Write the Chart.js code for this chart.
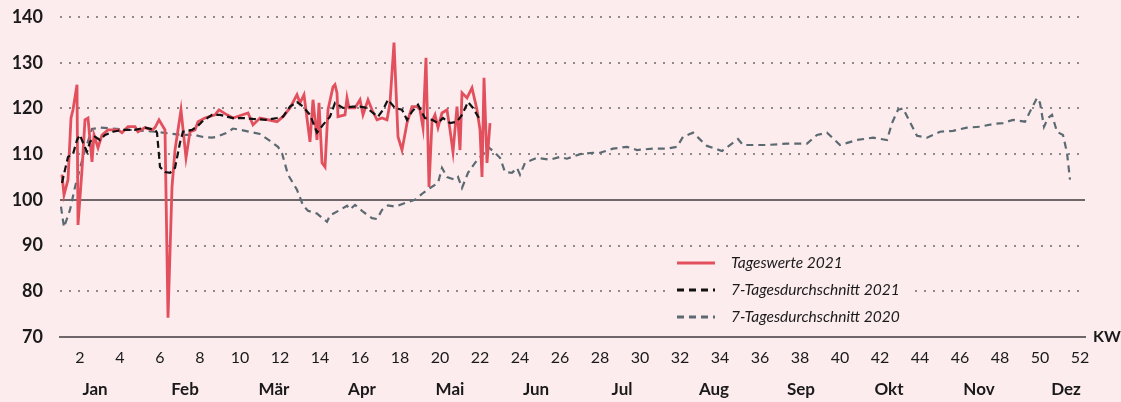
<!DOCTYPE html>
<html>
<head>
<meta charset="utf-8">
<script src="https://cdn.jsdelivr.net/npm/chart.js@4.4.0/dist/chart.umd.min.js"></script>
<style>
html, body { margin: 0; padding: 0; background: #fcecee; }
#wrap { position: relative; width: 1121px; height: 402px; }
</style>
</head>
<body>
<div id="wrap"><canvas id="chart" width="1121" height="402"></canvas></div>
<script>
// Kalenderwoche (KW, fractional) and index values

// Tageswerte 2021
const tagX = [1.1,1.2,1.4,1.55,1.65,1.85,1.9,2.1,2.25,2.4,2.6,2.7,2.9,3.1,3.4,3.9,4.1,4.4,4.75,4.9,5.25,5.6,5.75,5.95,6.25,6.4,6.6,6.75,7.05,7.3,7.5,7.75,7.9,8.25,8.75,8.95,9.35,9.65,10.4,10.65,11.0,11.85,12.15,12.5,12.85,13.0,13.2,13.5,13.65,13.85,13.95,14.1,14.25,14.4,14.65,14.75,14.85,14.9,15.25,15.35,15.45,15.75,16.0,16.15,16.4,16.6,16.85,17.1,17.35,17.5,17.7,17.9,18.1,18.35,18.6,18.85,19.0,19.15,19.3,19.45,19.6,19.75,19.9,20.1,20.35,20.5,20.65,20.85,21.0,21.1,21.35,21.6,21.85,22.0,22.1,22.2,22.35,22.5];
const tagY = [105.5,101.1,104.4,117.9,119.7,125.2,94.5,106.6,117.5,117.9,108.3,114.2,111.4,114.2,115.3,115.3,114.7,116,116,114.9,115.8,115.3,115.8,117.5,115.3,74.2,102.8,110.9,119.7,109.2,114.9,115.3,117.1,117.9,118.6,119.7,118.6,117.9,119,116.4,117.9,117.1,118.2,120.1,123,121.2,123,112.7,121.9,113.1,121.2,108.1,107.2,119.7,124.7,125.2,123.4,118.2,118.6,122.3,120.1,120.1,121.9,118.6,121.9,119.7,117.5,117.9,117.5,121.2,134.4,113.8,110.9,116.8,120.4,120.4,119.7,115.8,131.1,102.8,117.1,118.6,115.8,119,119.7,115.3,110.5,120.4,110.9,123.4,122.3,124.5,119.7,115.3,105,126.7,108.1,116.8];

// 7-Tagesdurchschnitt 2021
const avg21X = [1.1,1.25,1.4,1.65,1.85,2.0,2.15,2.35,2.5,2.75,3.0,3.25,3.65,4.1,4.75,5.25,5.75,5.85,6.0,6.25,6.5,6.75,7.0,7.15,7.6,7.85,8.1,8.6,9.0,9.65,10.15,10.65,11.35,11.85,12.15,12.5,12.85,13.15,13.5,13.85,14.15,14.5,14.75,15.15,15.65,16.0,16.35,16.65,16.9,17.15,17.4,17.75,18.1,18.35,18.6,18.9,19.25,19.6,19.9,20.15,20.5,20.85,21.1,21.4,21.65,22.0];
const avg21Y = [103.7,106.6,109.4,110,113.1,114.2,112.5,110.5,112.7,113.8,113.1,114.2,114.9,115.3,115.3,115.8,115.3,114.7,107.2,106.1,105.9,107,112.5,114.9,115.3,116,117.1,118.6,118.6,117.9,117.9,117.7,117.5,117.9,118.2,120.4,121.4,120.4,118.6,114.7,116.4,118.2,121.2,120.1,120.4,120.4,120.1,119,118.2,119.7,121.9,120.1,119.7,117.5,119.3,120.8,117.9,117.5,116.8,117.9,116.8,117.1,118.6,121.4,120.1,117.5];

// 7-Tagesdurchschnitt 2020
const avg20X = [1.05,1.2,1.5,1.75,2.15,2.6,3.0,5.75,7.1,7.75,8.1,8.6,8.85,9.35,9.65,10.15,11.0,11.5,11.9,12.1,12.4,12.85,13.15,13.4,13.85,14.35,14.5,15.0,15.35,15.5,15.75,16.15,16.6,16.85,17.1,17.4,17.75,18.25,18.75,19.15,19.5,19.9,20.1,20.35,20.75,20.9,21.1,21.4,21.75,22.1,22.4,22.75,23.0,23.25,23.6,23.85,24.0,24.25,24.85,25.5,26.0,26.35,27.0,27.65,28.0,28.65,29.35,29.85,30.65,31.35,31.85,32.15,32.65,33.1,33.35,34.1,34.9,35.15,36.35,37.35,38.35,38.85,39.35,40.0,40.85,41.65,42.35,42.6,42.9,43.15,43.5,43.85,44.35,45.0,45.65,46.35,47.0,47.65,48.15,48.65,49.25,49.5,49.85,50.0,50.2,50.4,50.6,50.85,51.15,51.35,51.5];
const avg20Y = [98.5,94,97.8,102.8,109.4,115.5,115.8,114.9,114.2,114.2,113.8,113.6,113.8,114.7,115.6,115.2,114.4,112.9,111.6,110.2,105.5,102.2,98.8,97.6,97,95.2,96.6,97.8,98.7,97.9,98.9,97.4,96,95.8,97.8,98.8,98.5,99.3,100,101.5,102.6,103.7,107,105,104.4,105,102.6,105.9,108.1,109.8,111.6,110.3,109.2,106.1,105.9,107,105.5,108.1,109.2,108.8,109.4,109,110,110.3,110.3,111.2,111.6,110.9,111.2,111.2,111.6,113.8,114.7,112.8,111.8,110.7,113.3,112,112,112.3,112.3,114.2,114.7,112,113.1,113.6,113.1,116.8,119.7,120,117,114,113.6,114.9,115.1,115.8,116,116.6,116.8,117.5,117.1,119.3,122.3,121.2,116,117.9,118.6,114.9,114.2,110.3,104.4];

const kwTicks = [2,4,6,8,10,12,14,16,18,20,22,24,26,28,30,32,34,36,38,40,42,44,46,48,50,52];
const months = ['Jan','Feb','Mär','Apr','Mai','Jun','Jul','Aug','Sep','Okt','Nov','Dez'];
const monthPos = [2.75,7.25,11.7,16.1,20.5,24.8,29.1,33.7,38.05,42.45,46.95,51.3];
const yTicks = [70,80,90,100,110,120,130,140];

const legendItems = [
    { text: 'Tageswerte 2021', color: '#e2505e', dash: [] },
    { text: '7-Tagesdurchschnitt 2021', color: '#111111', dash: [7, 5] },
    { text: '7-Tagesdurchschnitt 2020', color: '#5b6a71', dash: [7, 5] }
];

const pts = (xs, ys) => xs.map((x, i) => ({ x: x, y: ys[i] }));

Chart.defaults.font.family = 'Lato, "Noto Sans", sans-serif';
Chart.defaults.color = '#1a1a1a';

const extras = {
    id: 'extras',
    afterDraw(chart) {
        const c = chart.ctx;
        const area = chart.chartArea;
        // KW label at axis end
        c.save();
        c.font = 'bold 16px Lato, "Noto Sans", sans-serif';
        c.fillStyle = '#1a1a1a';
        c.textBaseline = 'middle';
        c.textAlign = 'left';
        c.fillText('KW', area.right + 8, area.bottom);
        // legend box
        const lx = 665, ly = 252;
        c.fillStyle = '#fcecee';
        c.fillRect(lx, ly, 250, 78);
        c.font = 'italic 15.5px Lato, "Noto Sans", sans-serif';
        legendItems.forEach((it, i) => {
            const y = ly + 11 + i * 27;
            c.beginPath();
            c.setLineDash(it.dash);
            c.strokeStyle = it.color;
            c.lineWidth = 3;
            c.moveTo(lx + 12, y);
            c.lineTo(lx + 50, y);
            c.stroke();
            c.setLineDash([]);
            c.fillStyle = '#1a1a1a';
            c.fillText(it.text, lx + 66, y);
        });
        c.restore();
    }
};

const ctx = document.getElementById('chart');
const myChart = new Chart(ctx, {
    type: 'line',
    data: {
        datasets: [{
            label: '7-Tagesdurchschnitt 2021',
            data: pts(avg21X, avg21Y),
            borderColor: '#111111',
            borderWidth: 2.2,
            borderDash: [7, 4]
        },
        {
            label: 'Tageswerte 2021',
            data: pts(tagX, tagY),
            borderColor: '#e2505e',
            borderWidth: 2.8
        },
        {
            label: '7-Tagesdurchschnitt 2020',
            data: pts(avg20X, avg20Y),
            borderColor: '#5b6a71',
            borderWidth: 2.2,
            borderDash: [7, 5]
        }]
    },
    options: {
        responsive: false,
        animation: false,
        elements: { point: { radius: 0 }, line: { tension: 0 } },
        layout: { padding: { top: 17, right: 36, left: 0, bottom: 0 } },
        scales: {
            x: {
                type: 'linear',
                position: 'bottom',
                min: 1,
                max: 52.25,
                afterBuildTicks: ax => { ax.ticks = kwTicks.map(v => ({ value: v })); },
                afterFit: ax => { ax.height = 34; },
                grid: { display: false, drawTicks: false },
                border: { display: true, color: '#6e6668', width: 2 },
                ticks: { padding: 11, autoSkip: false, maxRotation: 0, font: { size: 16 }, callback: v => v }
            },
            xMonth: {
                type: 'linear',
                position: 'bottom',
                min: 1,
                max: 52.25,
                afterBuildTicks: ax => { ax.ticks = monthPos.map(v => ({ value: v })); },
                afterFit: ax => { ax.height = 31; },
                grid: { display: false, drawTicks: false },
                border: { display: false },
                ticks: { padding: 8, autoSkip: false, maxRotation: 0, font: { size: 17, weight: 'bold' },
                    callback: (v, i) => months[i] }
            },
            y: {
                min: 70,
                max: 140,
                afterBuildTicks: ax => { ax.ticks = yTicks.map(v => ({ value: v })); },
                afterFit: ax => { ax.width = 60; ax.paddingTop = 0; ax.paddingBottom = 0; },
                grid: {
                    drawTicks: false,
                    lineWidth: 2,
                    color: c => c.tick.value === 70 ? 'rgba(0,0,0,0)' : (c.tick.value === 100 ? '#6e6668' : '#8e8a8c')
                },
                border: { display: false, dash: c => (c.tick && c.tick.value === 100) ? [] : [2, 7] },
                ticks: { padding: 17, font: { size: 18, weight: 'bold' } }
            }
        },
        plugins: {
            legend: { display: false },
            tooltip: { enabled: false }
        }
    },
    plugins: [extras]
});
</script>
</body>
</html>
